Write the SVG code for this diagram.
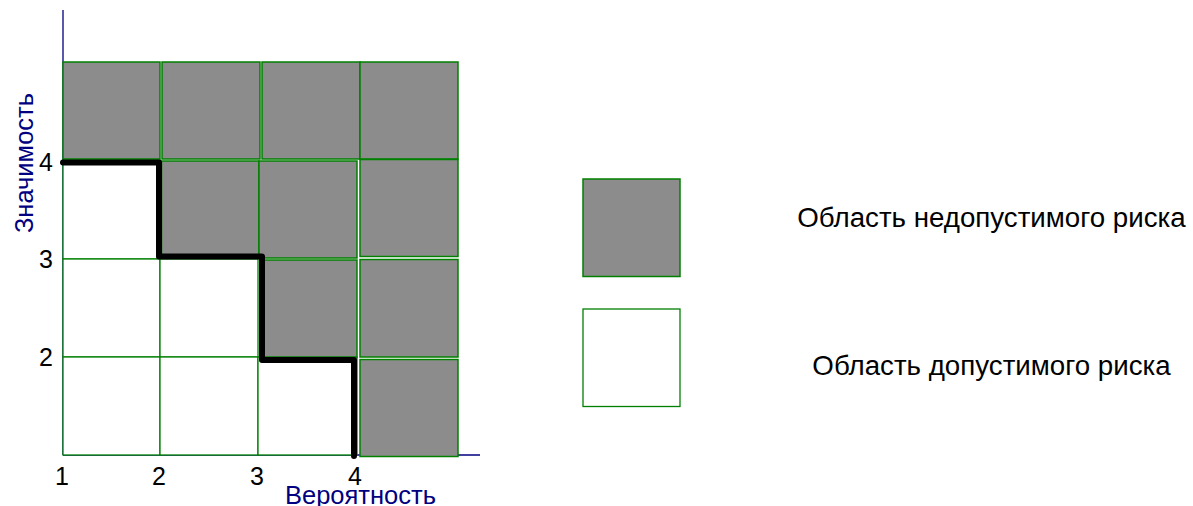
<svg xmlns="http://www.w3.org/2000/svg" width="1193" height="506" viewBox="0 0 1193 506">
<style>
.g{fill:#8c8c8c;stroke:#008000;stroke-width:1.5}
.w{fill:#ffffff;stroke:#008000;stroke-width:1.3}
.ax{stroke:#000080;stroke-width:1.3;fill:none}
.num{font-family:"Liberation Sans",Arial,sans-serif;font-size:25px;fill:#000}
.axl{font-family:"Liberation Sans",Arial,sans-serif;font-size:25.5px;fill:#000080}
.leg{font-family:"Liberation Sans",Arial,sans-serif;font-size:27.7px;fill:#000}
</style>
<rect width="1193" height="506" fill="#fff"/>
<g id="axes">
<line class="ax" x1="63" y1="10" x2="63" y2="455"/>
<line class="ax" x1="63" y1="455" x2="480" y2="455"/>
</g>
<g id="safe-cells">
<rect class="w" x="63" y="160" width="97" height="99"/>
<rect class="w" x="63" y="259" width="97" height="98"/>
<rect class="w" x="160" y="259" width="98" height="98"/>
<rect class="w" x="63" y="357" width="97" height="98"/>
<rect class="w" x="160" y="357" width="98" height="98"/>
<rect class="w" x="258" y="357" width="99" height="98"/>
</g>
<g id="risk-cells">
<rect class="g" x="63" y="62" width="97" height="97"/>
<rect class="g" x="162" y="62" width="98" height="97"/>
<rect class="g" x="262" y="62" width="98" height="97"/>
<rect class="g" x="360" y="62" width="98" height="97"/>
<rect class="g" x="161.5" y="161" width="97.5" height="97"/>
<rect class="g" x="259" y="161" width="98" height="97"/>
<rect class="g" x="360" y="159.5" width="98" height="97"/>
<rect class="g" x="262" y="260" width="95" height="97"/>
<rect class="g" x="360" y="259.5" width="98" height="97.5"/>
<rect class="g" x="360" y="359.5" width="98" height="97"/>
</g>
<g id="connectors">
<polyline points="63,162.5 159,162.5 159,256.5 262,256.5 262,360 354,360 354,456" fill="none" stroke="#000" stroke-width="6" stroke-linejoin="round" stroke-linecap="round"/>
</g>
<g id="y-ticks">
<text class="num" x="53" y="171" text-anchor="end">4</text>
<text class="num" x="53" y="268" text-anchor="end">3</text>
<text class="num" x="53" y="366" text-anchor="end">2</text>
</g>
<g id="x-ticks">
<text class="num" x="62" y="485" text-anchor="middle">1</text>
<text class="num" x="159" y="485" text-anchor="middle">2</text>
<text class="num" x="257" y="485" text-anchor="middle">3</text>
<text class="num" x="355" y="485" text-anchor="middle">4</text>
</g>
<g id="axis-labels">
<text class="axl" x="285" y="504">Вероятность</text>
<text class="axl" transform="translate(33,163) rotate(-90)" text-anchor="middle">Значимость</text>
</g>
<g id="legend-unacceptable">
<rect class="g" x="583" y="179" width="97" height="97.5"/>
<text class="leg" x="991.5" y="226.5" text-anchor="middle">Область недопустимого риска</text>
</g>
<g id="legend-acceptable">
<rect class="w" x="583" y="309" width="97" height="97.5"/>
<text class="leg" x="991.5" y="375" text-anchor="middle">Область допустимого риска</text>
</g>
</svg>
